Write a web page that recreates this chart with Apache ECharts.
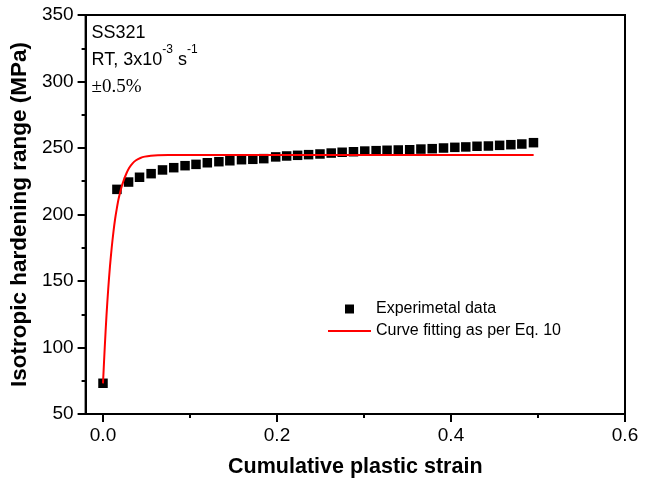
<!DOCTYPE html>
<html>
<head>
<meta charset="utf-8">
<script src="https://cdn.jsdelivr.net/npm/echarts@6/dist/echarts.min.js"></script>
<style>
  html, body { margin: 0; padding: 0; background: #fff; }
  #chart { width: 650px; height: 485px; }
</style>
</head>
<body>
<div id="chart"></div>
<script>
// Cumulative plastic strain vs isotropic hardening range, SS321 at RT
const strain = [0, 0.016, 0.0294, 0.042, 0.0553, 0.0684, 0.0813, 0.0943, 0.1069, 0.1199,
  0.1332, 0.1458, 0.1592, 0.1722, 0.1848, 0.1985, 0.2111, 0.2237, 0.2363, 0.2494, 0.2623,
  0.2749, 0.2879, 0.3009, 0.3139, 0.3265, 0.3394, 0.3525, 0.3654, 0.3784, 0.3914, 0.4044,
  0.4170, 0.4299, 0.4430, 0.4559, 0.4688, 0.4814, 0.4948];
const hardening = [73.1, 218.9, 224.4, 228.0, 230.7, 233.5, 235.2, 236.7, 237.7, 238.9,
  239.7, 240.4, 241.2, 241.5, 242.0, 243.3, 244.0, 244.5, 245.0, 245.5, 246.2,
  246.8, 247.2, 247.7, 248.0, 248.3, 248.5, 248.7, 249.2, 249.5, 250.0, 250.5,
  250.8, 251.3, 251.5, 252.0, 252.5, 253.0, 254.0];

// Fitted curve (Eq. 10)
const fitStrain = [0, 0.002, 0.004, 0.006, 0.008, 0.010, 0.012, 0.014, 0.016, 0.018,
  0.021, 0.024, 0.027, 0.030, 0.034, 0.038, 0.043, 0.048, 0.055, 0.063, 0.075, 0.09,
  0.12, 0.2, 0.3, 0.4, 0.495];
const fitRange = [73, 100, 124, 144, 161, 175, 187, 197, 205, 212,
  220, 226, 231, 235, 238.5, 240.8, 242.5, 243.5, 244.2, 244.6, 244.8, 244.8,
  244.8, 244.8, 244.8, 244.8, 244.8];

const xMajorTicks = [0, 0.2, 0.4, 0.6];
const xMinorTicks = [0.1, 0.3, 0.5];
const yTicks = [50, 100, 150, 200, 250, 300, 350];

const seriesNames = ['Experimetal data', 'Curve fitting as per Eq. 10'];

const FONT = '"Liberation Sans", Arial, sans-serif';

const chart = echarts.init(document.getElementById('chart'), null, { renderer: 'canvas' });

const expData = strain.map((x, i) => [x, hardening[i]]);
const fitData = fitStrain.map((x, i) => [x, fitRange[i]]);

chart.setOption({
  animation: false,
  backgroundColor: '#ffffff',
  textStyle: { fontFamily: FONT, color: '#000' },
  grid: {
    left: 83.5, right: 25, top: 15, bottom: 71,
    show: true, borderColor: '#000', borderWidth: 2, backgroundColor: 'transparent'
  },
  xAxis: [{
    type: 'value',
    min: -0.02, max: 0.6,
    name: 'Cumulative plastic strain',
    nameLocation: 'middle',
    nameGap: 42,
    nameTextStyle: { fontFamily: FONT, fontSize: 21.5, fontWeight: 'bold', color: '#000' },
    axisLine: { show: true, onZero: false, lineStyle: { color: '#000', width: 2 } },
    axisTick: { show: true, inside: false, length: 8, lineStyle: { color: '#000', width: 2 },
      customValues: xMajorTicks },
    axisLabel: { show: true, margin: 12, fontFamily: FONT, fontSize: 19, color: '#000',
      customValues: xMajorTicks, formatter: v => v.toFixed(1) },
    splitLine: { show: false }
  }, {
    type: 'value',
    min: -0.02, max: 0.6,
    position: 'bottom',
    axisLine: { show: false },
    axisTick: { show: true, inside: false, length: 4, lineStyle: { color: '#000', width: 2 },
      customValues: xMinorTicks },
    axisLabel: { show: false },
    splitLine: { show: false }
  }],
  yAxis: {
    type: 'value',
    min: yTicks[0], max: yTicks[yTicks.length - 1], interval: 50,
    name: 'Isotropic hardening range (MPa)',
    nameLocation: 'middle',
    nameGap: 45,
    nameTextStyle: { fontFamily: FONT, fontSize: 22.5, fontWeight: 'bold', color: '#000' },
    axisLine: { show: true, onZero: false, lineStyle: { color: '#000', width: 2 } },
    axisTick: { show: true, inside: false, length: 8, lineStyle: { color: '#000', width: 2 } },
    minorTick: { show: true, splitNumber: 2, length: 4, lineStyle: { color: '#000', width: 2 } },
    axisLabel: { margin: 12, fontFamily: FONT, fontSize: 19, color: '#000' },
    splitLine: { show: false }
  },
  legend: {
    orient: 'vertical',
    left: 328, top: 301,
    padding: 0,
    itemWidth: 43, itemHeight: 9, itemGap: 6,
    symbolKeepAspect: true,
    textStyle: { fontFamily: FONT, fontSize: 16, color: '#000' },
    data: [
      { name: seriesNames[0], icon: 'path://M0,0H10V10H0Z' },
      { name: seriesNames[1], icon: 'path://M0,0H43V2H0Z' }
    ]
  },
  series: [{
    name: seriesNames[0],
    type: 'scatter',
    xAxisIndex: 0,
    symbol: 'rect',
    symbolSize: 9.5,
    itemStyle: { color: '#000', opacity: 1 },
    data: expData,
    z: 2
  }, {
    name: seriesNames[1],
    type: 'line',
    xAxisIndex: 0,
    symbol: 'none',
    smooth: 0.3,
    lineStyle: { color: '#ff0000', width: 2 },
    itemStyle: { color: '#ff0000' },
    data: fitData,
    z: 3
  }],
  graphic: [{
    type: 'text', left: 91.5, top: 24,
    style: { text: 'SS321', fontFamily: FONT, fontSize: 18, fill: '#000' }
  }, {
    type: 'text', left: 91.5, top: 44,
    style: {
      text: '{b|RT, 3x10}{s|-3}{b| s}{s|-1}',
      rich: {
        b: { fontFamily: FONT, fontSize: 18, lineHeight: 32, fill: '#000', verticalAlign: 'middle' },
        s: { fontFamily: FONT, fontSize: 12, lineHeight: 12, fill: '#000', verticalAlign: 'top' }
      }
    }
  }, {
    type: 'text', left: 91.5, top: 78,
    style: { text: '±0.5%', fontFamily: '"Liberation Serif", "Times New Roman", serif', fontSize: 19, fill: '#000' }
  }]
});
</script>
</body>
</html>
